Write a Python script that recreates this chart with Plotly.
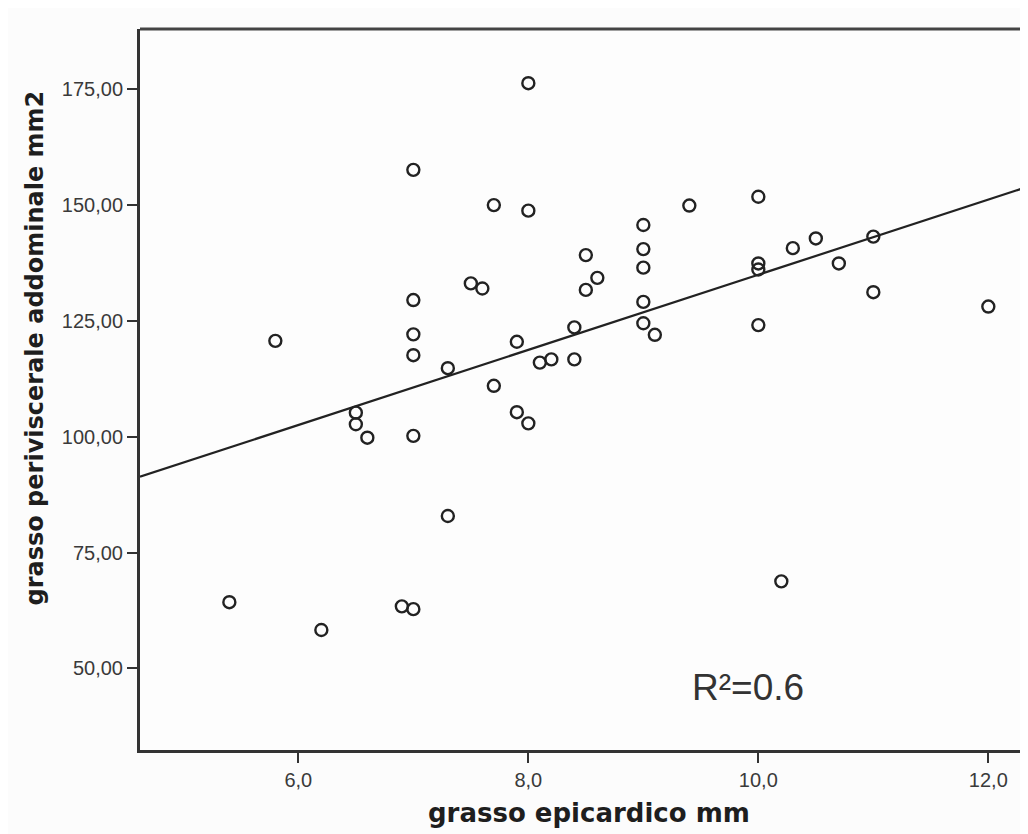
import plotly.graph_objects as go

# ---- data ----
epicardico_mm = [5.4, 6.2, 5.8, 8.0, 7.0, 7.7, 8.0, 9.4, 9.0, 9.0, 9.0, 9.0, 9.0, 9.1,
                 8.5, 8.6, 8.5, 7.5, 7.6, 7.0, 7.0, 7.0, 7.3, 7.9, 8.4, 8.1, 8.2, 8.4,
                 7.7, 6.5, 6.5, 6.6, 7.0, 7.9, 8.0, 7.3, 6.9, 7.0, 10.0, 10.5, 10.3,
                 11.0, 10.0, 10.0, 10.7, 11.0, 10.0, 12.0, 10.2]
periviscerale_mm2 = [64.3, 58.3, 120.7, 176.3, 157.6, 150.0, 148.8, 149.9, 145.7, 140.5,
                     136.5, 129.1, 124.5, 122.0, 139.2, 134.3, 131.7, 133.1, 132.0, 129.5,
                     122.1, 117.6, 114.8, 120.5, 123.6, 116.0, 116.7, 116.7, 111.0, 105.2,
                     102.7, 99.8, 100.2, 105.3, 102.9, 82.9, 63.4, 62.8, 151.8, 142.8,
                     140.7, 143.2, 137.4, 136.1, 137.4, 131.2, 124.1, 128.1, 68.8]
fit_intercept = 53.9
fit_slope = 8.107
x_ticks = [6.0, 8.0, 10.0, 12.0]
x_tick_labels = ["6,0", "8,0", "10,0", "12,0"]
y_ticks = [50, 75, 100, 125, 150, 175]
y_tick_labels = ["50,00", "75,00", "100,00", "125,00", "150,00", "175,00"]
r2_label = "R²=0.6"
x_title = "grasso epicardico mm"
y_title = "grasso periviscerale addominale mm2"

x_range = [4.623, 12.345]
y_range = [32.4, 188.0]

fit_x = list(x_range)
fit_y = [fit_intercept + fit_slope * v for v in fit_x]

ink = "#222222"

fig = go.Figure()
fig.add_trace(go.Scatter(
    x=fit_x, y=fit_y, mode="lines",
    line=dict(color=ink, width=2.2), hoverinfo="skip", showlegend=False))
fig.add_trace(go.Scatter(
    x=epicardico_mm, y=periviscerale_mm2, mode="markers",
    marker=dict(symbol="circle-open", size=12, color=ink, line=dict(width=2.4, color=ink)),
    showlegend=False))

tick_font = dict(family="Liberation Sans, Arial, sans-serif", size=20, color="#3a3a3a")
fig.update_xaxes(
    range=x_range, tickvals=x_ticks, ticktext=x_tick_labels,
    showgrid=False, zeroline=False, showline=True, linecolor="#333", linewidth=3,
    ticks="outside", ticklen=10, tickwidth=2, tickcolor="#333",
    tickfont=tick_font)
fig.update_yaxes(
    range=y_range, tickvals=y_ticks, ticktext=y_tick_labels,
    showgrid=False, zeroline=False, showline=True, linecolor="#333", linewidth=3,
    ticks="outside", ticklen=10, tickwidth=2, tickcolor="#333",
    tickfont=tick_font)

title_font = dict(family="DejaVu Sans, sans-serif", color="#1e1e1e", weight="bold")
fig.update_layout(
    width=1020, height=826,
    margin=dict(l=132, r=0, t=21, b=84),
    paper_bgcolor="#fcfcfc", plot_bgcolor="#fdfdfd",
    shapes=[dict(type="line", xref="paper", yref="paper", x0=0, x1=1, y0=1, y1=1,
                 line=dict(color="#444", width=3))],
    annotations=[
        dict(text=x_title, xref="paper", yref="paper", x=0.5056, y=-0.0874,
             showarrow=False, xanchor="center", yanchor="middle",
             font=dict(size=26, **title_font)),
        dict(text=y_title, xref="paper", yref="paper", x=-0.1182, y=0.5569,
             showarrow=False, xanchor="center", yanchor="middle", textangle=-90,
             font=dict(size=24, **title_font)),
        dict(text=r2_label, xref="x", yref="y", x=9.906, y=45.9,
             showarrow=False, xanchor="center", yanchor="middle",
             font=dict(family="Liberation Sans, Arial, sans-serif", size=37, color="#333")),
    ],
)

fig.write_html("out.html")
